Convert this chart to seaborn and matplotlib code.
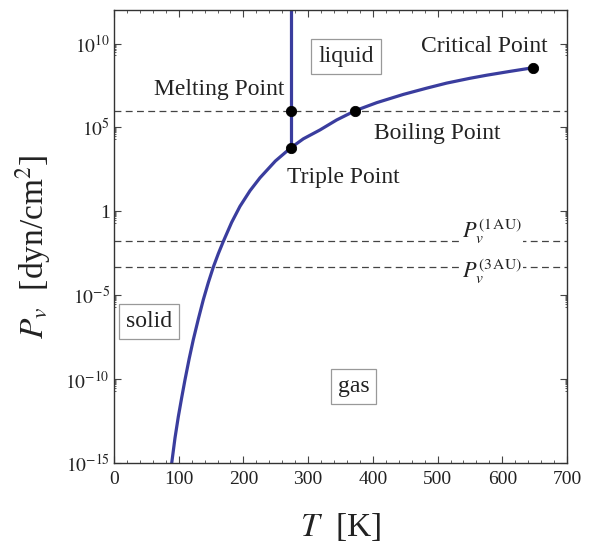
import numpy as np
import pandas as pd
import matplotlib
matplotlib.use("Agg")
import matplotlib.pyplot as plt
import matplotlib.ticker as mticker
import seaborn as sns

# ---- data ----
sub_T = [89.2, 94.3, 99.4, 104.6, 109.7, 116.1, 122.5, 130.3, 138.0, 145.7, 153.5,
         161.2, 168.9, 181.8, 194.7, 210.2, 225.6, 249.4, 273.16]
sub_P = [1.0e-15, 3.2e-14, 5.8e-13, 7.9e-12, 9.1e-11, 1.6e-9, 2.2e-8, 3.8e-7, 5.4e-6, 5.6e-5, 4.8e-4,
         3.0e-3, 1.6e-2, 2.2e-1, 2.0, 1.7e1, 1.0e2, 1.0e3, 6.1e3]
liq_T = [273.16, 292.6, 318.3, 344.1, 373.15, 406.0, 447.1, 483.2, 514.1, 550.0, 576.0, 612.0, 647.0]
liq_P = [6.1e3, 2.1e4, 7.1e4, 2.8e5, 1.013e6, 3.0e6, 9.3e6, 2.2e7, 4.4e7, 8.5e7, 1.3e8, 2.2e8, 3.6e8]
melt_T = [273.16, 273.16]
melt_P = [6.1e3, 1.0e13]

pt_names = ["Triple Point", "Melting Point", "Boiling Point", "Critical Point"]
pt_T = [273.16, 273.16, 373.15, 647.0]
pt_P = [6.1e3, 1.013e6, 1.013e6, 3.6e8]

P_atm = 1.013e6
P_1AU = 1.6e-2
P_3AU = 4.8e-4

x_ticks = [0, 100, 200, 300, 400, 500, 600, 700]
y_ticks = [1e-15, 1e-10, 1e-5, 1, 1e5, 1e10]
y_tick_labels = [r"$10^{-15}$", r"$10^{-10}$", r"$10^{-5}$", "1", r"$10^{5}$", r"$10^{10}$"]

# ---- style ----
sns.set_theme(style="ticks")
plt.rcParams["font.family"] = ["Liberation Serif", "DejaVu Serif"]
plt.rcParams["mathtext.fontset"] = "stix"

fig = plt.figure(figsize=(5.92, 5.44), dpi=100)
ax = fig.add_axes([114/592, 1-463/544, 453/592, 453/544])

curve_color = "#3a3d9e"
sub_df = pd.DataFrame({"T": sub_T, "P": sub_P})
liq_df = pd.DataFrame({"T": liq_T, "P": liq_P})
melt_df = pd.DataFrame({"T": melt_T, "P": melt_P})
pts_df = pd.DataFrame({"T": pt_T, "P": pt_P, "name": pt_names})

ax.set_yscale("log")
for d in (sub_df, liq_df, melt_df):
    sns.lineplot(data=d, x="T", y="P", ax=ax, color=curve_color, lw=2.3,
                 sort=False, estimator=None)

dash_kw = dict(color="#444444", lw=0.9, ls=(0, (5.5, 3.5)), zorder=1)
for p in (P_atm, P_1AU, P_3AU):
    ax.axhline(p, **dash_kw)

sns.scatterplot(data=pts_df, x="T", y="P", ax=ax, color="black", s=55,
                edgecolor="black", zorder=5)

ax.set_xlim(0, 700)
ax.set_ylim(1e-15, 1e12)

# ticks
ax.xaxis.set_major_locator(mticker.FixedLocator(x_ticks))
ax.xaxis.set_minor_locator(mticker.MultipleLocator(20))
ax.yaxis.set_major_locator(mticker.FixedLocator(y_ticks))
ax.yaxis.set_major_formatter(mticker.FixedFormatter(y_tick_labels))
minor_y = [m * t / 10 for t in y_ticks for m in range(2, 10)]
ax.yaxis.set_minor_locator(mticker.FixedLocator(minor_y))
ax.yaxis.set_minor_formatter(mticker.NullFormatter())
ax.tick_params(which="both", direction="in", top=True, right=True,
               color="#444444", labelsize=14, labelcolor="#222222")
ax.tick_params(which="major", length=5, width=0.8)
ax.tick_params(axis="x", which="major", pad=6)
ax.tick_params(axis="y", which="major", pad=3)
ax.tick_params(which="minor", length=2.5, width=0.6)
ax.tick_params(axis="y", which="minor", length=1.5)
for s in ax.spines.values():
    s.set_visible(True)
    s.set_color("#333333")
    s.set_linewidth(1.0)

# annotations
tfs = 17
ax.text(162, 10**7.27, "Melting Point", fontsize=tfs, ha="center", va="center", color="#222222")
ax.text(572, 10**9.84, "Critical Point", fontsize=tfs, ha="center", va="center", color="#222222")
ax.text(500, 10**4.64, "Boiling Point", fontsize=tfs, ha="center", va="center", color="#222222")
ax.text(354, 10**2.01, "Triple Point", fontsize=tfs, ha="center", va="center", color="#222222")

box = dict(boxstyle="square,pad=0.3", fc="white", ec="#999999", lw=0.9)
ax.text(359, 10**9.24, "liquid", fontsize=tfs, ha="center", va="center", bbox=box, color="#222222")
ax.text(53.7, 10**-6.58, "solid", fontsize=tfs, ha="center", va="center", bbox=box, color="#222222")
ax.text(370, 10**-10.46, "gas", fontsize=tfs, ha="center", va="center", bbox=box, color="#222222")

wbox = dict(boxstyle="square,pad=0.05", fc="white", ec="none")
ax.text(584, 10**-1.567, r"$P_v^{(1\,\mathrm{AU})}$", fontsize=16, ha="center", va="baseline",
        bbox=wbox, color="#222222", zorder=3)
ax.text(584, 10**-3.955, r"$P_v^{(3\,\mathrm{AU})}$", fontsize=16, ha="center", va="baseline",
        bbox=wbox, color="#222222", zorder=3)

ax.set_xlabel(r"$T$  [K]", fontsize=24, color="#222222")
ax.set_ylabel(r"$P_v$  [dyn/cm$^2$]", fontsize=24, color="#222222")
ax.xaxis.set_label_coords(0.5, -0.106)
ax.yaxis.set_label_coords(-0.135, 0.477)

fig.savefig("out.png", dpi=100)
